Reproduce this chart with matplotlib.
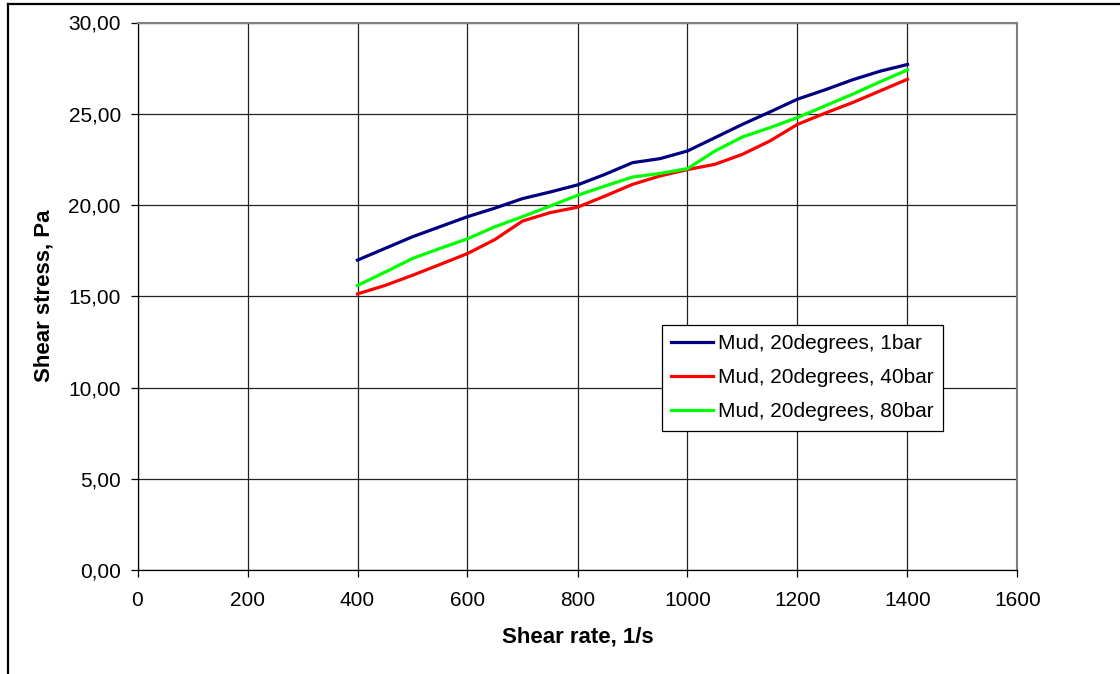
import matplotlib
matplotlib.use("Agg")
import matplotlib.pyplot as plt
from matplotlib.lines import Line2D
from matplotlib.ticker import FuncFormatter, MultipleLocator

plt.rcParams['font.family'] = ['Liberation Sans', 'DejaVu Sans']

shear_rate = [400, 450, 500, 550, 600, 650, 700, 750, 800, 850, 900, 950, 1000,
              1050, 1100, 1150, 1200, 1250, 1300, 1350, 1400]
stress_1bar = [16.98, 17.62, 18.26, 18.81, 19.36, 19.83, 20.35, 20.71, 21.10, 21.68,
               22.32, 22.54, 22.96, 23.69, 24.42, 25.10, 25.80, 26.31, 26.86, 27.33, 27.70]
stress_40bar = [15.13, 15.59, 16.15, 16.74, 17.34, 18.11, 19.12, 19.58, 19.88, 20.49,
                21.13, 21.59, 21.94, 22.23, 22.78, 23.51, 24.42, 25.03, 25.61, 26.25, 26.89]
stress_80bar = [15.59, 16.32, 17.07, 17.62, 18.15, 18.81, 19.36, 19.94, 20.53, 21.04,
                21.53, 21.73, 21.99, 22.96, 23.73, 24.24, 24.79, 25.43, 26.07, 26.75, 27.40]
labels = ['Mud, 20degrees, 1bar', 'Mud, 20degrees, 40bar', 'Mud, 20degrees, 80bar']
colors = ['#000080', '#FF0000', '#00FF00']

W, H = 1120, 674
fig = plt.figure(figsize=(W / 100, H / 100), dpi=100)
fig.patch.set_facecolor('white')

left, right, top, bottom = 137.5, 1017.5, 22.5, 570
ax = fig.add_axes([left / W, 1 - bottom / H, (right - left) / W, (bottom - top) / H])

for ys, lab, c in zip([stress_1bar, stress_40bar, stress_80bar], labels, colors):
    ax.plot(shear_rate, ys, color=c, lw=2.3, label=lab, solid_joinstyle='round')

ax.set_xlim(0, 1600)
ax.set_ylim(0, 30)
ax.xaxis.set_major_locator(MultipleLocator(200))
ax.yaxis.set_major_locator(MultipleLocator(5))
ax.yaxis.set_major_formatter(FuncFormatter(lambda v, p: f"{v:.2f}".replace('.', ',')))
ax.grid(True, color='#222222', lw=0.9)
ax.set_axisbelow(True)

for s in ['top', 'right']:
    ax.spines[s].set_color('#808080')
    ax.spines[s].set_linewidth(1.5)
for s in ['left', 'bottom']:
    ax.spines[s].set_color('black')
    ax.spines[s].set_linewidth(0.9)

ax.tick_params(axis='both', direction='out', length=5, width=0.9, labelsize=15, colors='black')
ax.tick_params(axis='x', pad=10)
ax.tick_params(axis='y', pad=7)

ax.set_xlabel('Shear rate, 1/s', fontsize=16, fontweight='bold', labelpad=12)
ax.set_ylabel('Shear stress, Pa', fontsize=16, fontweight='bold', labelpad=10)

leg = ax.legend(loc='upper left', bbox_to_anchor=(662 / W, 1 - 325 / H),
                bbox_transform=fig.transFigure, fontsize=15, frameon=True,
                fancybox=False, framealpha=1, edgecolor='black', handlelength=2.0,
                handletextpad=0.25, labelspacing=0.72, borderpad=0.45, borderaxespad=0)
leg.get_frame().set_linewidth(0.9)

# outer chart frame
fig.add_artist(Line2D([8 / W, 8 / W], [0, 1 - 4 / H], transform=fig.transFigure,
                      color='black', lw=1.6))
fig.add_artist(Line2D([8 / W, 1], [1 - 4 / H, 1 - 4 / H], transform=fig.transFigure,
                      color='black', lw=1.6))

fig.savefig('out.png', dpi=100)
